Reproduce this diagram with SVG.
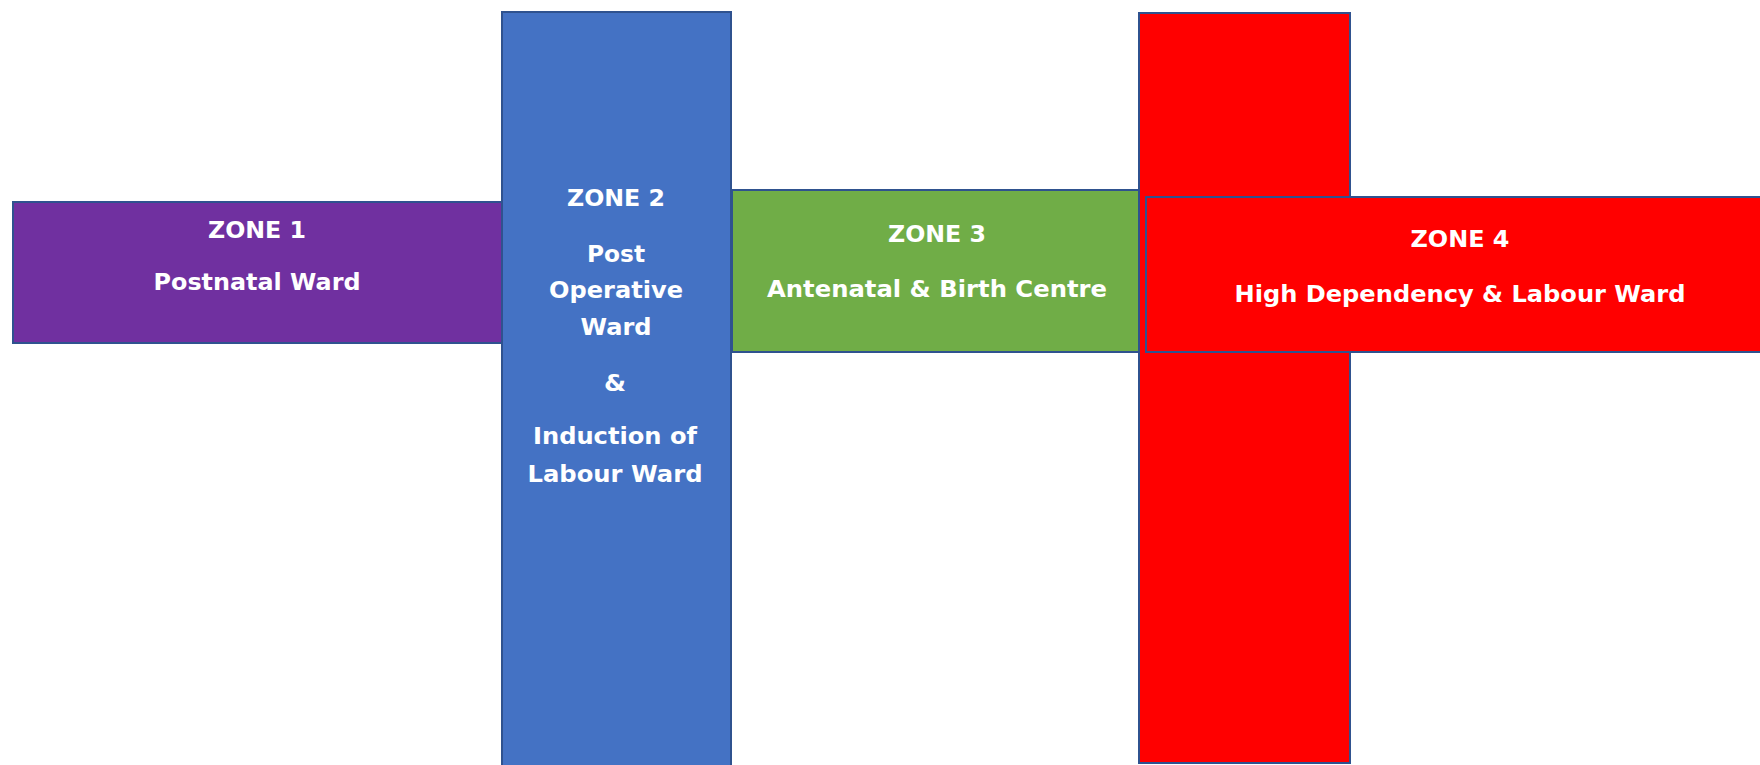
<svg xmlns="http://www.w3.org/2000/svg" width="1760" height="765" viewBox="0 0 1760 765">
<style>
.box{stroke:#2F528F;stroke-width:2}
.t{fill:#FFFFFF;font-family:"DejaVu Sans","Liberation Sans",sans-serif;font-weight:bold;font-size:23px;text-anchor:middle}
</style>
<rect width="1760" height="765" fill="#FFFFFF"/>
<g id="zone1">
<rect class="box" x="13" y="202" width="490" height="141" fill="#7030A0"/>
<text class="t" x="257" y="238" textLength="98" lengthAdjust="spacingAndGlyphs">ZONE 1</text>
<text class="t" x="257" y="290" textLength="207" lengthAdjust="spacingAndGlyphs">Postnatal Ward</text>
</g>
<g id="zone2">
<rect class="box" x="502" y="12" width="229" height="770" fill="#4472C4"/>
<text class="t" x="616" y="206" textLength="98" lengthAdjust="spacingAndGlyphs">ZONE 2</text>
<text class="t" x="616" y="262" textLength="58" lengthAdjust="spacingAndGlyphs">Post</text>
<text class="t" x="616" y="298" textLength="134" lengthAdjust="spacingAndGlyphs">Operative</text>
<text class="t" x="616" y="335" textLength="71" lengthAdjust="spacingAndGlyphs">Ward</text>
<text class="t" x="615" y="391" textLength="22" lengthAdjust="spacingAndGlyphs">&amp;</text>
<text class="t" x="615" y="444" textLength="164" lengthAdjust="spacingAndGlyphs">Induction of</text>
<text class="t" x="615" y="482" textLength="175" lengthAdjust="spacingAndGlyphs">Labour Ward</text>
</g>
<g id="zone3">
<rect class="box" x="732" y="190" width="408" height="162" fill="#70AD47"/>
<text class="t" x="937" y="242" textLength="98" lengthAdjust="spacingAndGlyphs">ZONE 3</text>
<text class="t" x="937" y="297" textLength="340" lengthAdjust="spacingAndGlyphs">Antenatal &amp;  Birth Centre</text>
</g>
<g id="zone4">
<rect class="box" x="1139" y="13" width="211" height="750" fill="#FF0000"/>
<rect class="box" x="1146" y="197" width="620" height="155" fill="#FF0000"/>
<text class="t" x="1460" y="247" textLength="99" lengthAdjust="spacingAndGlyphs">ZONE 4</text>
<text class="t" x="1460" y="302" textLength="451" lengthAdjust="spacingAndGlyphs">High Dependency &amp; Labour Ward</text>
</g>
<g id="connectors"></g>
</svg>
